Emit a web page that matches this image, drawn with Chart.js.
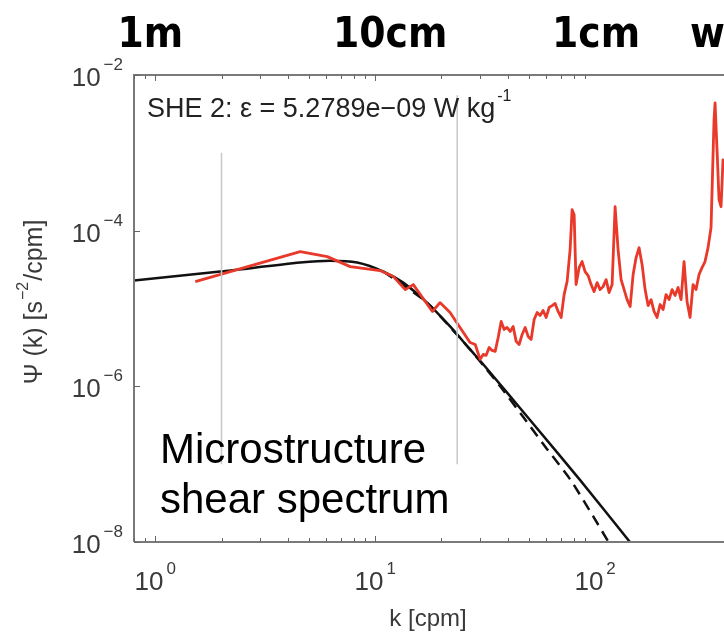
<!DOCTYPE html>
<html>
<head>
<meta charset="utf-8">
<script src="https://cdn.jsdelivr.net/npm/chart.js@4.4.1/dist/chart.umd.min.js"></script>
<style>
  html, body { margin: 0; padding: 0; background: #fff; overflow: hidden; }
  #wrap { position: relative; width: 724px; height: 635px; overflow: hidden; }
  #wrap canvas { position: absolute; left: 0; top: 0; }
</style>
</head>
<body>
<div id="wrap"><canvas id="spec" width="830" height="635"></canvas></div>
<script>
// wavenumber k [cpm] and shear spectrum values
var kSpec = [1.52, 4.56, 6.05, 7.70, 10.5, 12.1, 13.7, 14.9, 18.2, 19.7, 21.9, 24.3, 27.0, 28.5,
  30.0, 30.97, 31.96, 32.97, 34.02, 35.12, 36.24, 37.39, 38.59, 39.81, 41.08, 42.40, 43.75, 45.14, 46.59, 48.07,
  49.61, 51.19, 52.82, 54.51, 56.23, 58.02, 59.89, 61.80, 63.76, 65.80, 67.89, 70.06, 72.29, 74.59, 76.98, 78.6,
  80.3, 81.94, 84.57, 87.26, 90.05, 92.94, 95.90, 98.97, 102.1, 105.4, 108.7, 112.2, 115.8, 119.5, 123.3, 127.2,
  131.3, 135.5, 139.8, 144.3, 148.9, 153.6, 158.5, 163.6, 168.8, 174.2, 179.7, 185.4, 191.3, 197.5, 203.8, 210.2,
  217.0, 223.9, 231.0, 238.4, 246.0, 253.8, 261.9, 270.3, 278.9, 287.8, 297.0, 306.4, 316.2, 326.3, 336.7, 347.4,
  351.2, 358.5, 366.1, 373.8, 381.7, 393.9];
var psiSpec = [2.22e-5, 5.38e-5, 4.64e-5, 3.45e-5, 3.07e-5, 2.57e-5, 1.75e-5, 2.03e-5, 9.16e-6, 1.19e-5, 8.89e-6,
  5.70e-6, 3.66e-6, 3.45e-6,
  2.22e-6, 2.57e-6, 2.50e-6, 3.16e-6, 2.89e-6, 2.81e-6, 4.25e-6, 6.82e-6, 5.38e-6, 5.70e-6, 5.07e-6, 5.88e-6,
  3.78e-6, 3.45e-6, 4.64e-6, 5.70e-6, 4.38e-6, 4.01e-6, 7.23e-6, 8.89e-6, 8.14e-6, 9.43e-6, 7.67e-6, 1.03e-5,
  1.09e-5, 1.16e-5, 9.16e-6, 7.67e-6, 1.51e-5, 2.22e-5, 5.71e-5, 1.86e-4, 1.60e-4, 2.03e-5, 3.35e-5, 4.01e-5,
  2.98e-5, 2.65e-5, 2.03e-5, 1.65e-5, 2.15e-5, 1.75e-5, 1.91e-5, 2.35e-5, 1.60e-5, 2.03e-5, 2.03e-4, 5.71e-5,
  2.35e-5, 1.75e-5, 1.30e-5, 1.06e-5, 2.73e-5, 4.51e-5, 6.05e-5, 3.66e-5, 1.75e-5, 1.09e-5, 1.30e-5, 9.16e-6,
  7.67e-6, 1.125e-5, 9.71e-6, 1.51e-5, 1.30e-5, 1.75e-5, 1.47e-5, 1.86e-5, 1.30e-5, 4.01e-5, 1.23e-5, 7.67e-6,
  2.03e-5, 1.75e-5, 2.73e-5, 3.35e-5, 4.01e-5, 6.05e-5, 1.10e-4, 2.65e-3, 4.37e-3, 1.09e-3, 2.50e-4, 2.03e-4,
  8.13e-4, 6.05e-4];

// Nasmyth fit (solid) and model (dashed)
var kFit = [0.8, 1.975, 4.56, 6.24, 8.28, 10.9, 13.4, 17.2, 21.9, 27.0, 31.6, 50.7, 85.5, 144, 160];
var psiFit = [2.29e-5, 2.98e-5, 3.89e-5, 4.12e-5, 3.89e-5, 2.98e-5, 2.15e-5, 1.19e-5, 5.88e-6, 2.98e-6, 1.80e-6,
  3.66e-7, 6.24e-8, 1.0e-8, 7.1e-9];
var kDash = [10.9, 17.2, 27.0, 31.6, 37.0, 49.1, 60.5, 76.9, 97.9, 115, 123];
var psiDash = [2.98e-5, 1.19e-5, 2.98e-6, 1.75e-6, 1.0e-6, 3.45e-7, 1.56e-7, 6.43e-8, 2.15e-8, 1.0e-8, 7.4e-9];

// integration limits
var kLimits = [2.0, 23.6];
var limLow = [1e-7, 1e-7];
var limHigh = [1e-3, 5.5e-3];

var xMajor = [1, 10, 100, 1000];
var yMajor = [1e-2, 1e-4, 1e-6, 1e-8];
var yExp = ['\u22122', '\u22124', '\u22126', '\u22128'];
var xExp = ['0', '1', '2', '3'];
var topLabels = ['1m', '10cm', '1cm'];
var topLabelK = [1, 10, 100];
var topShift = [-5, 15, 1];

function pts(xs, ys) {
  return xs.map(function(x, i) { return { x: x, y: ys[i] }; });
}

var datasets = [];
kLimits.forEach(function(k, i) {
  datasets.push({
    data: [{ x: k, y: limLow[i] }, { x: k, y: limHigh[i] }],
    borderColor: '#c8c8c8', borderWidth: 1.5, pointRadius: 0, showLine: true, clip: 0
  });
});
datasets.push({
  data: pts(kSpec, psiSpec), borderColor: '#e8392a', borderWidth: 2.8, pointRadius: 0,
  showLine: true, tension: 0, clip: 0, borderJoinStyle: 'round'
});
datasets.push({
  data: pts(kDash, psiDash), borderColor: '#111', borderWidth: 2.5, borderDash: [11, 7], pointRadius: 0,
  showLine: true, tension: 0.2, clip: 0
});
datasets.push({
  data: pts(kFit, psiFit), borderColor: '#111', borderWidth: 2.5, pointRadius: 0,
  showLine: true, tension: 0.25, clip: 0
});

var FONT = "'Liberation Sans', Arial, sans-serif";

function drawPow(ctx, exp, x, y, align) {
  // MATLAB style 10^n label, baseline at y
  ctx.font = '26px ' + FONT;
  var wb = ctx.measureText('10').width;
  ctx.font = '17px ' + FONT;
  var we = ctx.measureText(exp).width;
  var left = align === 'right' ? x - wb - we - 3 : x - (wb + we + 3) / 2;
  ctx.textAlign = 'left';
  ctx.textBaseline = 'alphabetic';
  ctx.font = '26px ' + FONT;
  ctx.fillText('10', left, y);
  ctx.font = '17px ' + FONT;
  ctx.fillText(exp, left + wb + 3, y - 16);
}

var axesPlugin = {
  id: 'matlabAxes',
  afterDatasetsDraw: function(chart) {
    var ctx = chart.ctx;
    var a = chart.chartArea;
    var xs = chart.scales.x, ys = chart.scales.y;
    ctx.save();
    // box
    ctx.strokeStyle = '#7a7a7a';
    ctx.lineWidth = 2;
    ctx.beginPath();
    ctx.moveTo(a.left, a.bottom); ctx.lineTo(a.left, a.top); ctx.lineTo(a.right, a.top);
    ctx.moveTo(a.left, a.bottom); ctx.lineTo(a.right, a.bottom);
    ctx.stroke();
    // x ticks, top and bottom, inside
    ctx.lineWidth = 1;
    ctx.strokeStyle = '#666';
    for (var d = 0; d < 3; d++) {
      for (var m = 1; m <= 9; m++) {
        var v = m * Math.pow(10, d - 1);
        if (v < xs.min) continue;
        var px = Math.round(xs.getPixelForValue(v)) + 0.5;
        var len = m === 1 ? 6 : 4;
        ctx.beginPath();
        ctx.moveTo(px, a.bottom); ctx.lineTo(px, a.bottom - len);
        ctx.moveTo(px, a.top); ctx.lineTo(px, a.top + len);
        ctx.stroke();
      }
    }
    ctx.beginPath();
    var p1000 = Math.round(xs.getPixelForValue(1000)) + 0.5;
    ctx.moveTo(p1000, a.bottom); ctx.lineTo(p1000, a.bottom - 6);
    ctx.stroke();
    // y ticks
    yMajor.forEach(function(v) {
      var py = Math.round(ys.getPixelForValue(v)) + 0.5;
      ctx.beginPath();
      ctx.moveTo(a.left, py); ctx.lineTo(a.left + 6, py);
      ctx.stroke();
    });
    // tick labels
    ctx.fillStyle = '#3a3a3a';
    yMajor.forEach(function(v, i) {
      drawPow(ctx, yExp[i], a.left - 11, ys.getPixelForValue(v) + 11, 'right');
    });
    xMajor.forEach(function(v, i) {
      drawPow(ctx, xExp[i], xs.getPixelForValue(v), 590, 'center');
    });
    // axis titles
    ctx.font = '24px ' + FONT;
    ctx.textAlign = 'center';
    ctx.fillText('k [cpm]', 428, 626);
    ctx.save();
    ctx.translate(42, 303);
    ctx.rotate(-Math.PI / 2);
    var t1 = '\u03A8 (k) [s', t2 = '/cpm]';
    ctx.font = '25px ' + FONT;
    var w1 = ctx.measureText(t1).width, w2 = ctx.measureText(t2).width;
    ctx.font = '16px ' + FONT;
    var wsup = ctx.measureText('\u22122').width;
    var start = -(w1 + wsup + w2) / 2;
    ctx.textAlign = 'left';
    ctx.font = '25px ' + FONT;
    ctx.fillText(t1, start, 0);
    ctx.fillText(t2, start + w1 + wsup + 2, 0);
    ctx.font = '16px ' + FONT;
    ctx.fillText('\u22122', start + w1 + 1, -14);
    ctx.restore();
    // annotation
    ctx.fillStyle = '#222';
    ctx.textAlign = 'left';
    ctx.font = '27px ' + FONT;
    var ann = 'SHE 2: \u03B5 = 5.2789e\u221209 W kg';
    ctx.fillText(ann, 147, 117);
    var wa = ctx.measureText(ann).width;
    ctx.font = '16px ' + FONT;
    ctx.fillText('-1', 147 + wa + 2, 101);
    // overlay text
    ctx.fillStyle = '#000';
    ctx.font = '42px ' + FONT;
    ctx.fillText('Microstructure', 160, 463);
    ctx.fillText('shear spectrum', 160, 513);
    ctx.font = 'bold 42px "DejaVu Sans Condensed", "DejaVu Sans", sans-serif';
    ctx.textAlign = 'center';
    topLabels.forEach(function(t, i) {
      ctx.fillText(t, xs.getPixelForValue(topLabelK[i]) + topShift[i], 47);
    });
    ctx.textAlign = 'left';
    ctx.fillText('wavelength', 690, 47);
    ctx.restore();
  }
};

new Chart(document.getElementById('spec'), {
  type: 'scatter',
  data: { datasets: datasets },
  options: {
    responsive: false,
    animation: false,
    layout: { padding: { left: 134, right: 15, top: 75, bottom: 93 } },
    plugins: { legend: { display: false }, tooltip: { enabled: false } },
    scales: {
      x: { type: 'logarithmic', min: 0.8, max: 1000, display: false },
      y: { type: 'logarithmic', min: 1e-8, max: 1e-2, display: false }
    }
  },
  plugins: [axesPlugin]
});
</script>
</body>
</html>
